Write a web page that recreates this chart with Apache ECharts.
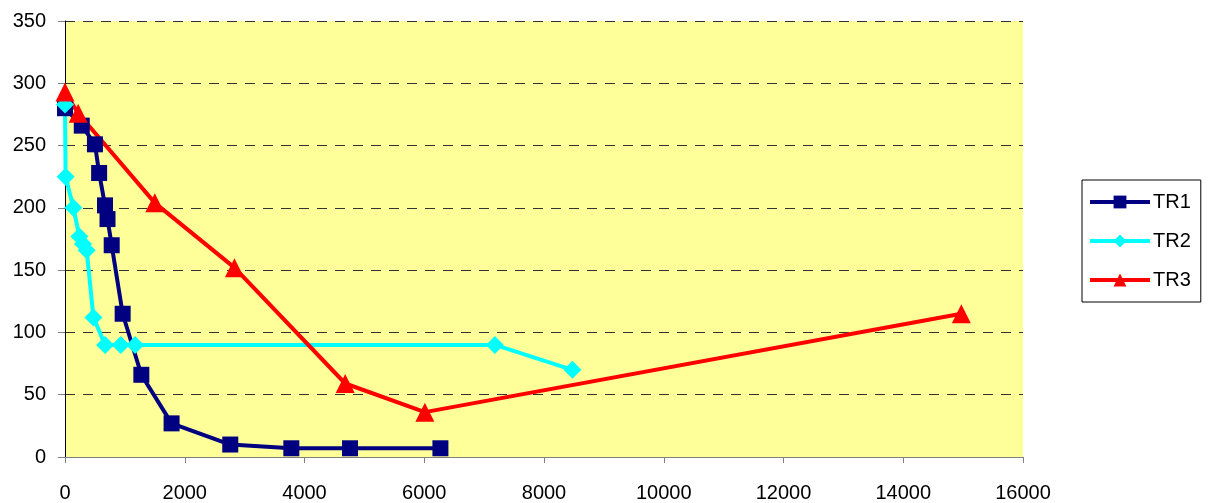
<!DOCTYPE html>
<html>
<head>
<meta charset="utf-8">
<script src="https://cdn.jsdelivr.net/npm/echarts@6/dist/echarts.min.js"></script>
<style>
  html, body { margin: 0; padding: 0; background: #ffffff; }
  #chart { width: 1209px; height: 503px; }
</style>
</head>
<body>
<div id="chart"></div>
<script>
// Series data: [x, y] pairs for each TR curve
const tr1 = [
  [0, 280], [280, 266], [500, 251], [570, 228], [668, 202], [710, 191],
  [780, 170], [963, 115], [1275, 66], [1780, 27], [2760, 10],
  [3780, 7], [4760, 7], [6270, 7]
];
const tr2 = [
  [0, 283], [10, 225], [140, 200], [240, 177], [300, 171], [362, 166],
  [475, 112], [670, 90], [930, 90], [1170, 90], [7180, 90], [8475, 70]
];
const tr3 = [
  [0, 293], [220, 276], [1500, 204], [2830, 152], [4680, 59],
  [6010, 36], [14970, 115]
];
const seriesNames = ['TR1', 'TR2', 'TR3'];
const xTicks = { min: 0, max: 16000, interval: 2000 };
const yTicks = { min: 0, max: 350, interval: 50 };

const font = 'Liberation Sans, Arial, sans-serif';
const chart = echarts.init(document.getElementById('chart'));

function lineSeries(name, data, color, symbol, size) {
  return {
    name: name,
    type: 'line',
    data: data,
    symbol: symbol,
    symbolSize: size,
    showAllSymbol: true,
    lineStyle: { color: color, width: 4 },
    itemStyle: { color: color, borderWidth: 0 },
    emphasis: { disabled: true },
    animation: false
  };
}

chart.setOption({
  backgroundColor: '#ffffff',
  grid: {
    left: 65, right: 186, top: 21, bottom: 46,
    show: true, backgroundColor: '#FFFF99', borderWidth: 0
  },
  legend: {
    orient: 'vertical',
    left: 1082, top: 180,
    width: 118,
    padding: [12, 10, 12, 6],
    itemGap: 19,
    itemWidth: 60, itemHeight: 16,
    lineStyle: { width: 4 },
    borderColor: '#000000', borderWidth: 1,
    textStyle: { fontFamily: font, fontSize: 20, color: '#000000', padding: [0, 0, 0, -2] },
    data: seriesNames
  },
  xAxis: [{
    type: 'value',
    min: xTicks.min, max: xTicks.max, interval: xTicks.interval,
    axisLine: { show: true, onZero: false, lineStyle: { color: '#808080', width: 1 } },
    axisTick: { show: true, length: 6, lineStyle: { color: '#808080' } },
    axisLabel: {
      fontFamily: font, fontSize: 20, color: '#000000', margin: 26,
      formatter: function (v) { return String(v); }
    },
    splitLine: { show: false }
  }, {
    // plain top edge of the plot area
    type: 'value', position: 'top',
    min: xTicks.min, max: xTicks.max, interval: xTicks.interval,
    axisLine: { show: true, lineStyle: { color: '#808080', width: 1 } },
    axisTick: { show: false }, axisLabel: { show: false }, splitLine: { show: false }
  }],
  yAxis: {
    type: 'value',
    min: yTicks.min, max: yTicks.max, interval: yTicks.interval,
    axisLine: { show: true, onZero: false, lineStyle: { color: '#000000', width: 1 } },
    axisTick: { show: true, length: 7, lineStyle: { color: '#808080' } },
    axisLabel: { fontFamily: font, fontSize: 20, color: '#000000', margin: 19 },
    splitLine: {
      show: true,
      lineStyle: { color: '#333333', width: 1, type: [10, 8] }
    }
  },
  series: [
    lineSeries(seriesNames[0], tr1, '#000080', 'rect', 16),
    lineSeries(seriesNames[1], tr2, '#00FFFF', 'diamond', 18),
    lineSeries(seriesNames[2], tr3, '#FF0000', 'triangle', 19)
  ]
});
</script>
</body>
</html>
